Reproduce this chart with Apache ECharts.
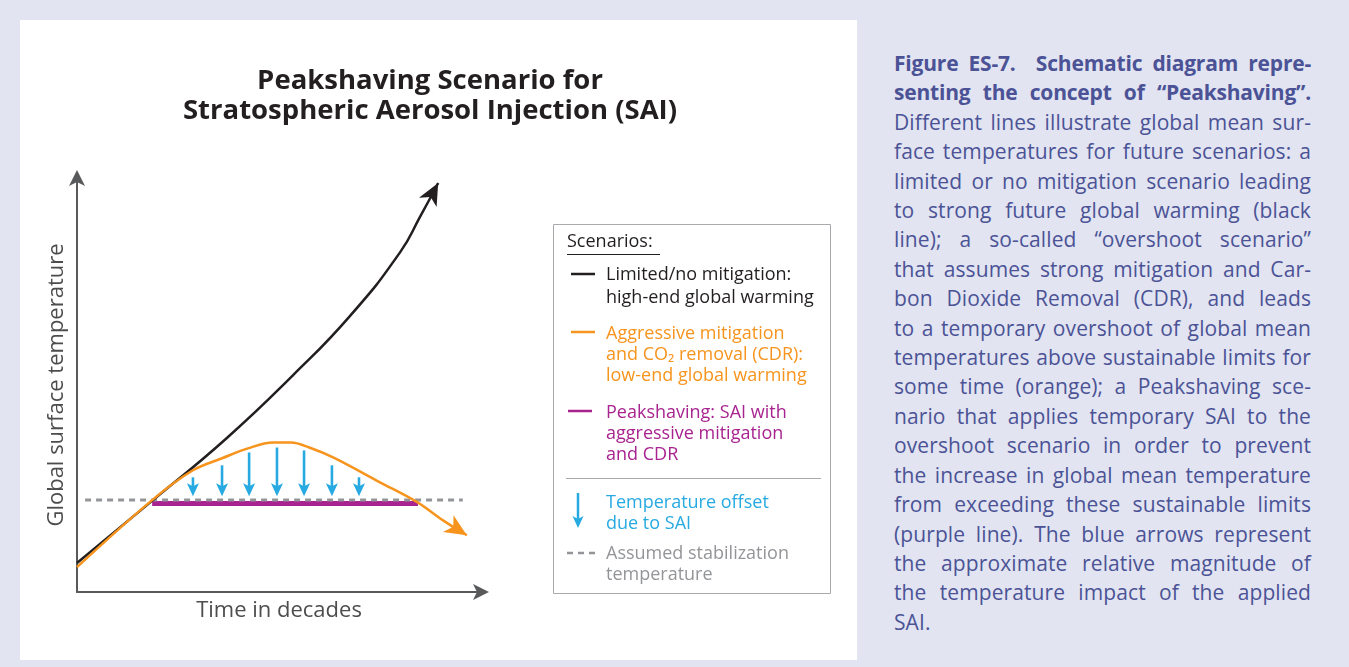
<!DOCTYPE html>
<html><head><meta charset="utf-8">
<script src="https://cdn.jsdelivr.net/npm/echarts@6.0.0/dist/echarts.min.js"></script>
<style>
html,body{margin:0;padding:0;background:#e2e4f1;width:1349px;height:667px;overflow:hidden;}
#chart{position:absolute;left:20px;top:20px;width:837px;height:640px;background:#fff;}
#caption{position:absolute;left:894px;top:49px;width:417px;font-family:"Open Sans",sans-serif;font-size:21px;line-height:29.4px;color:#4b5396;letter-spacing:0.1px;}
#caption div{text-align:justify;text-align-last:justify;white-space:nowrap;}
#caption div.b{font-weight:700;letter-spacing:-0.2px;}
#caption div.last{text-align-last:left;}
</style></head>
<body>
<div id="chart"></div>
<div id="caption"></div>
<script>
// ---- data (schematic units: time 0-100, temperature 0-100) ----
const noMitigationTime = [0, 18.8, 37.1, 53.5, 67.6, 80.0, 84.9, 89.4];
const noMitigationTemp = [7.0, 22.2, 37.2, 52.4, 66.7, 82.1, 90.6, 98.8];
const overshootTime = [0, 18.6, 28.7, 35.9, 42.3, 48.5, 53.0, 57.5, 63.4, 75.0, 84.2, 90.6, 96.5];
const overshootTemp = [6.0, 22.2, 29.4, 32.3, 34.7, 36.1, 36.1, 34.9, 32.5, 26.5, 21.7, 17.3, 13.7];
const stabilizationTemp = 22.2;
const stabilizationSpan = [2.0, 95.5];
const peakshavingTemp = 21.4;
const peakshavingSpan = [18.6, 84.4];
const offsetTime = [28.7, 35.9, 42.6, 49.5, 56.2, 63.1, 69.8];
const offsetTop = [27.7, 30.6, 33.7, 34.9, 34.2, 30.6, 27.7];
const offsetBottom = 23.1;

const legendLabels = {
  title: 'Scenarios:',
  noMitigation: ['Limited/no mitigation:', 'high-end global warming'],
  overshoot: ['Aggressive mitigation', 'and CO\u2082 removal (CDR):', 'low-end global warming'],
  peakshaving: ['Peakshaving: SAI with', 'aggressive mitigation', 'and CDR'],
  offset: ['Temperature offset', 'due to SAI'],
  stabilization: ['Assumed stabilization', 'temperature']
};
const captionLines = [
  ['b', 'Figure ES-7.\u00a0 Schematic diagram repre-'],
  ['b', 'senting the concept of \u201cPeakshaving\u201d.'],
  ['', 'Different lines illustrate global mean sur-'],
  ['', 'face temperatures for future scenarios: a'],
  ['', 'limited or no mitigation scenario leading'],
  ['', 'to strong future global warming (black'],
  ['', 'line); a so-called \u201covershoot scenario\u201d'],
  ['', 'that assumes strong mitigation and Car-'],
  ['', 'bon Dioxide Removal (CDR), and leads'],
  ['', 'to a temporary overshoot of global mean'],
  ['', 'temperatures above sustainable limits for'],
  ['', 'some time (orange); a Peakshaving sce-'],
  ['', 'nario that applies temporary SAI to the'],
  ['', 'overshoot scenario in order to prevent'],
  ['', 'the increase in global mean temperature'],
  ['', 'from exceeding these sustainable limits'],
  ['', '(purple line). The blue arrows represent'],
  ['', 'the approximate relative magnitude of'],
  ['', 'the temperature impact of the applied'],
  ['last', 'SAI.']
];

// ---- caption ----
const cap = document.getElementById('caption');
captionLines.forEach(([cls, t]) => {
  const d = document.createElement('div');
  if (cls) d.className = cls;
  d.textContent = t;
  cap.appendChild(d);
});

// ---- colors ----
const C = {
  black: '#231f20', orange: '#f7941d', purple: '#a8238f', blue: '#27aae1',
  gray: '#939598', axis: '#58595b', text: '#4d4d4f'
};
const FONT = '"Open Sans", Lato, sans-serif';

const zip = (xs, ys) => xs.map((x, i) => [x, ys[i]]);
const noMitigation = zip(noMitigationTime, noMitigationTemp);
const overshoot = zip(overshootTime, overshootTemp);

function headPoints(a, b, L, W, n) {
  const dx = b[0] - a[0], dy = b[1] - a[1];
  const len = Math.hypot(dx, dy) || 1;
  const ux = dx / len, uy = dy / len, px = -uy, py = ux;
  return [
    [b[0], b[1]],
    [b[0] - ux * L + px * W, b[1] - uy * L + py * W],
    [b[0] - ux * (L - n), b[1] - uy * (L - n)],
    [b[0] - ux * L - px * W, b[1] - uy * L - py * W]
  ];
}

function curveHead(color, L, W, n) {
  return function (params, api) {
    const a = api.coord([api.value(0), api.value(1)]);
    const b = api.coord([api.value(2), api.value(3)]);
    return { type: 'polygon', shape: { points: headPoints(a, b, L, W, n) }, style: { fill: color } };
  };
}

const chart = echarts.init(document.getElementById('chart'), null, { renderer: 'canvas' });

const lastTwo = arr => [[...arr[arr.length - 2], ...arr[arr.length - 1]]];

const LX = 586;
function textBlock(lines, top, lh, color) {
  return { type: 'text', left: LX, top: top,
    style: { text: lines.join('\n'), font: '18px ' + FONT, fill: color, lineHeight: lh } };
}

const option = {
  animation: false,
  backgroundColor: '#ffffff',
  title: {
    text: 'Peakshaving Scenario for\nStratospheric Aerosol Injection (SAI)',
    left: 405, top: 41, textAlign: 'center',
    textStyle: { fontFamily: FONT, fontSize: 27.5, fontWeight: 'bold', lineHeight: 30, color: C.black }
  },
  grid: { left: 57, top: 158, width: 404, height: 414, containLabel: false, outerBoundsMode: 'none' },
  xAxis: {
    type: 'value', min: 0, max: 100,
    name: 'Time in decades', nameLocation: 'middle', nameGap: 8,
    nameTextStyle: { fontFamily: FONT, fontSize: 22, color: C.text, verticalAlign: 'top' },
    axisLine: { show: true, onZero: false, symbol: ['none', 'arrow'], symbolSize: [12, 16], symbolOffset: [0, 8],
      lineStyle: { color: C.axis, width: 2 } },
    axisTick: { show: false }, axisLabel: { show: false }, splitLine: { show: false }
  },
  yAxis: {
    type: 'value', min: 0, max: 100,
    name: 'Global surface temperature', nameLocation: 'middle', nameGap: 9, nameRotate: 90,
    nameTextStyle: { fontFamily: FONT, fontSize: 22, color: C.text },
    axisLine: { show: true, onZero: false, symbol: ['none', 'arrow'], symbolSize: [12, 16], symbolOffset: [0, 8],
      lineStyle: { color: C.axis, width: 2 } },
    axisTick: { show: false }, axisLabel: { show: false }, splitLine: { show: false }
  },
  series: [
    { name: 'Peakshaving', type: 'line', z: 2, silent: true, symbol: 'none',
      data: peakshavingSpan.map(x => [x, peakshavingTemp]),
      lineStyle: { color: C.purple, width: 5, cap: 'butt' } },
    { name: 'Assumed stabilization temperature', type: 'line', z: 3, silent: true, symbol: 'none',
      data: stabilizationSpan.map(x => [x, stabilizationTemp]),
      lineStyle: { color: C.gray, width: 3, type: [6, 5] } },
    { name: 'Limited/no mitigation', type: 'line', z: 4, silent: true, symbol: 'none', smooth: 0.5,
      data: noMitigation, lineStyle: { color: C.black, width: 2.5 } },
    { name: 'Aggressive mitigation and CDR', type: 'line', z: 5, silent: true, symbol: 'none', smooth: 0.35,
      data: overshoot, lineStyle: { color: C.orange, width: 2.5 } },
    { name: 'noMitigationHead', type: 'custom', z: 6, silent: true,
      data: lastTwo(noMitigation), renderItem: curveHead(C.black, 22, 10, 6) },
    { name: 'overshootHead', type: 'custom', z: 6, silent: true,
      data: lastTwo(overshoot), renderItem: curveHead(C.orange, 22, 10, 6) },
    { name: 'Temperature offset due to SAI', type: 'custom', z: 7, silent: true,
      data: offsetTime.map((x, i) => [x, offsetTop[i], offsetBottom]),
      renderItem: function (params, api) {
        const p1 = api.coord([api.value(0), api.value(1)]);
        const p2 = api.coord([api.value(0), api.value(2)]);
        return { type: 'group', children: [
          { type: 'line', shape: { x1: p1[0], y1: p1[1], x2: p2[0], y2: p2[1] - 8 },
            style: { stroke: C.blue, lineWidth: 2.6 } },
          { type: 'polygon', shape: { points: headPoints([p1[0], p1[1] - 20], p2, 13, 6, 3) },
            style: { fill: C.blue } }
        ] };
      } }
  ],
  graphic: [
    { type: 'rect', shape: { x: 533.5, y: 204.5, width: 277, height: 369 },
      style: { fill: 'none', stroke: '#a7a9ac', lineWidth: 1 } },
    { type: 'text', left: 547, top: 213, style: { text: legendLabels.title, font: '18px ' + FONT, fill: C.black } },
    { type: 'line', shape: { x1: 547, y1: 234.5, x2: 640, y2: 234.5 }, style: { stroke: C.black, lineWidth: 1 } },
    { type: 'line', shape: { x1: 551, y1: 254, x2: 575, y2: 254 }, style: { stroke: C.black, lineWidth: 2.5 } },
    textBlock(legendLabels.noMitigation, 243, 23, C.black),
    { type: 'line', shape: { x1: 551, y1: 312, x2: 575, y2: 312 }, style: { stroke: C.orange, lineWidth: 2.5 } },
    textBlock(legendLabels.overshoot, 303, 21.3, C.orange),
    { type: 'line', shape: { x1: 548, y1: 391, x2: 572, y2: 391 }, style: { stroke: C.purple, lineWidth: 2.5 } },
    textBlock(legendLabels.peakshaving, 382, 21.3, C.purple),
    { type: 'line', shape: { x1: 546, y1: 458.5, x2: 801, y2: 458.5 }, style: { stroke: '#a7a9ac', lineWidth: 1 } },
    { type: 'line', shape: { x1: 558, y1: 473, x2: 558, y2: 500 }, style: { stroke: C.blue, lineWidth: 2.5 } },
    { type: 'polygon', shape: { points: headPoints([558, 470], [558, 508], 12, 5.5, 3) }, style: { fill: C.blue } },
    textBlock(legendLabels.offset, 473, 20.5, C.blue),
    { type: 'line', shape: { x1: 547, y1: 533, x2: 577, y2: 533 }, style: { stroke: C.gray, lineWidth: 2.5, lineDash: [6, 5] } },
    textBlock(legendLabels.stabilization, 524, 20.5, C.gray)
  ]
};
chart.setOption(option);
</script>
</body></html>
